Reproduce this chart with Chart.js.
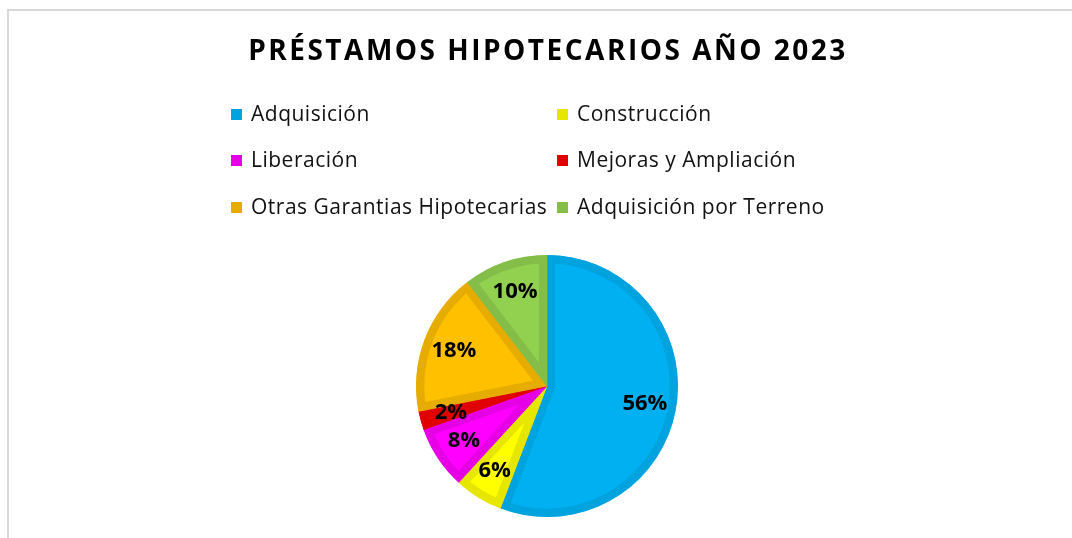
<!DOCTYPE html>
<html>
<head>
<meta charset="utf-8">
<script src="https://cdn.jsdelivr.net/npm/chart.js@4"></script>
<style>
  html, body { margin: 0; padding: 0; background: #fff; }
  #wrap { width: 1072px; height: 538px; }
</style>
</head>
<body>
<div id="wrap"><canvas id="pie" width="1072" height="538"></canvas></div>
<script>
// data
const titleText = 'PRÉSTAMOS HIPOTECARIOS AÑO 2023';
const categories = ['Adquisición', 'Construcción', 'Liberación', 'Mejoras y Ampliación', 'Otras Garantias Hipotecarias', 'Adquisición por Terreno'];
const values = [55.8, 6.0, 7.8, 2.3, 17.7, 10.4];
const fillColors = ['#00B0F0', '#FFFF00', '#FF00FF', '#FF0000', '#FFC000', '#92D050'];
const edgeColors = ['#00A3DD', '#E6E600', '#E600E6', '#E00000', '#E6AC00', '#84BD48'];

const total = values.reduce((a, b) => a + b, 0);
const pctLabels = values.map(v => Math.round(v / total * 100) + '%');

// frame + title + legend drawn on the canvas
const decorPlugin = {
    id: 'decor',
    beforeDraw(chart) {
        const ctx = chart.ctx;
        ctx.save();
        ctx.fillStyle = '#fff';
        ctx.fillRect(0, 0, chart.width, chart.height);
        ctx.fillStyle = '#d9d9d9';
        ctx.fillRect(7, 9, chart.width - 7, 2);
        ctx.fillRect(7, 9, 2, chart.height - 9);
        ctx.restore();
    },
    afterDraw(chart) {
        const ctx = chart.ctx;
        ctx.save();
        // title
        ctx.fillStyle = '#000';
        ctx.font = 'bold 28px "Open Sans"';
        ctx.letterSpacing = '2.5px';
        ctx.textAlign = 'center';
        ctx.textBaseline = 'middle';
        ctx.fillText(titleText, 548, 52);

        // legend, 2 columns
        const colX = [231, 557];
        const rowY = [114, 160, 207];
        ctx.font = '21px "Open Sans"';
        ctx.letterSpacing = '0.5px';
        ctx.textAlign = 'left';
        categories.forEach((name, i) => {
            const x = colX[i % 2];
            const y = rowY[Math.floor(i / 2)];
            ctx.fillStyle = edgeColors[i];
            ctx.fillRect(x, y - 5, 11, 11);
            ctx.fillStyle = '#111';
            ctx.fillText(name, x + 20, y + 1);
        });
        ctx.restore();
    },
    afterDatasetsDraw(chart) {
        const ctx = chart.ctx;
        const meta = chart.getDatasetMeta(0);
        ctx.save();
        ctx.font = 'bold 22px "Open Sans"';
        ctx.fillStyle = '#000';
        ctx.textAlign = 'center';
        ctx.textBaseline = 'middle';
        meta.data.forEach((arc, i) => {
            const mid = (arc.startAngle + arc.endAngle) / 2;
            const r = arc.outerRadius * 0.76;
            ctx.fillText(pctLabels[i], arc.x + Math.cos(mid) * r, arc.y + Math.sin(mid) * r);
        });
        ctx.restore();
    }
};

new Chart(document.getElementById('pie').getContext('2d'), {
    type: 'pie',
    data: {
        labels: categories,
        datasets: [{
            data: values,
            backgroundColor: fillColors,
            borderColor: edgeColors,
            borderWidth: 8,
            borderAlign: 'inner'
        }]
    },
    options: {
        responsive: false,
        animation: false,
        radius: 131,
        layout: { padding: { top: 255, bottom: 21, left: 22, right: 0 } },
        plugins: {
            legend: { display: false },
            title: { display: false },
            tooltip: { enabled: false }
        }
    },
    plugins: [decorPlugin]
});
</script>
</body>
</html>
